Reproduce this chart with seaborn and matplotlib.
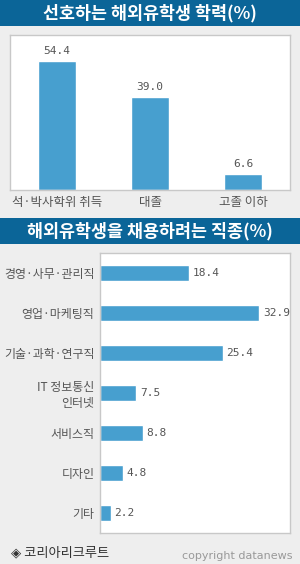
import matplotlib
matplotlib.use("Agg")
import matplotlib.pyplot as plt
import seaborn as sns
import pandas as pd
from matplotlib.patches import Rectangle

edu_categories = ['석·박사학위 취득', '대졸', '고졸 이하']
edu_values = [54.4, 39.0, 6.6]
job_categories = ['경영·사무·관리직', '영업·마케팅직', '기술·과학·연구직', 'IT 정보통신\n인터넷',
                  '서비스직', '디자인', '기타']
job_values = [18.4, 32.9, 25.4, 7.5, 8.8, 4.8, 2.2]
title1 = '선호하는 해외유학생 학력(%)'
title2 = '해외유학생을 채용하려는 직종(%)'
footer_left = '◈ 코리아리크루트'
footer_right = 'copyright datanews'

sns.set_theme(style='white')
plt.rcParams['font.family'] = ['Noto Sans CJK KR', 'DejaVu Sans']

BAR = '#479FCF'
HEAD = '#0B6598'
BG = '#EEEEEE'
SPINE = '#C8C8C8'
TXT = '#555555'

W, H = 300, 564
fig = plt.figure(figsize=(W / 100, H / 100), dpi=100)
fig.patch.set_facecolor(BG)

def fx(px):
    return px / W

def fy(py):
    return 1 - py / H

# header bars
for y0, y1, t in [(0, 26, title1), (218, 244, title2)]:
    fig.patches.append(Rectangle((0, fy(y1)), 1, (y1 - y0) / H, transform=fig.transFigure,
                                 facecolor=HEAD, edgecolor='none', zorder=0))
    fig.text(0.5, fy((y0 + y1) / 2 + 0.5), t, color='white', fontsize=12.5, fontweight='bold',
             ha='center', va='center')

# chart 1
df1 = pd.DataFrame({'cat': edu_categories, 'val': edu_values})
ax1 = fig.add_axes([fx(10), fy(190), fx(280), (190 - 35) / H])
sns.barplot(data=df1, x='cat', y='val', ax=ax1, color=BAR, width=0.41, saturation=1)
ax1.set_xlim(-0.5, len(edu_categories) - 0.5)
ax1.set_ylim(0, 65.2)
ax1.set_xlabel('')
ax1.set_ylabel('')
ax1.set_yticks([])
ax1.set_facecolor('white')
ax1.tick_params(axis='x', which='major', length=0, pad=4, labelsize=9, labelcolor=TXT)
ax1.set_xticks([i + 0.5 for i in range(len(edu_categories) - 1)], minor=True)
ax1.tick_params(axis='x', which='minor', direction='in', length=3.6, width=1, color='#999999')
for s in ax1.spines.values():
    s.set_color(SPINE)
    s.set_linewidth(1)
for i, v in enumerate(edu_values):
    ax1.annotate(f'{v:.1f}', (i, v), xytext=(0, 3.5), textcoords='offset points',
                 ha='center', va='bottom', fontsize=8, color=TXT, family='DejaVu Sans Mono')

# chart 2
df2 = pd.DataFrame({'cat': job_categories, 'val': job_values})
ax2 = fig.add_axes([fx(100), fy(533), fx(190), (533 - 253) / H])
sns.barplot(data=df2, y='cat', x='val', ax=ax2, color=BAR, width=0.42, saturation=1, orient='h')
ax2.set_ylim(len(job_categories) - 0.5, -0.5)
ax2.set_xlim(0, 39.2)
ax2.set_xlabel('')
ax2.set_ylabel('')
ax2.set_xticks([])
ax2.set_facecolor('white')
ax2.tick_params(axis='y', which='major', length=0, pad=4, labelsize=8.6, labelcolor=TXT)
ax2.set_yticks([i + 0.5 for i in range(len(job_categories) - 1)], minor=True)
ax2.tick_params(axis='y', which='minor', direction='in', length=3.6, width=1, color='#999999')
for s in ax2.spines.values():
    s.set_color(SPINE)
    s.set_linewidth(1)
for i, v in enumerate(job_values):
    ax2.annotate(f'{v:.1f}', (v, i), xytext=(2.5, 0), textcoords='offset points',
                 ha='left', va='center', fontsize=8, color=TXT, family='DejaVu Sans Mono')

# footer
fig.text(fx(11), fy(553), footer_left, fontsize=9.5, color='#333333', ha='left', va='center')
fig.text(fx(292), fy(556), footer_right, fontsize=8, color='#999999', ha='right', va='center',
         family='DejaVu Sans')

fig.savefig('out.png', dpi=100, facecolor=BG)
